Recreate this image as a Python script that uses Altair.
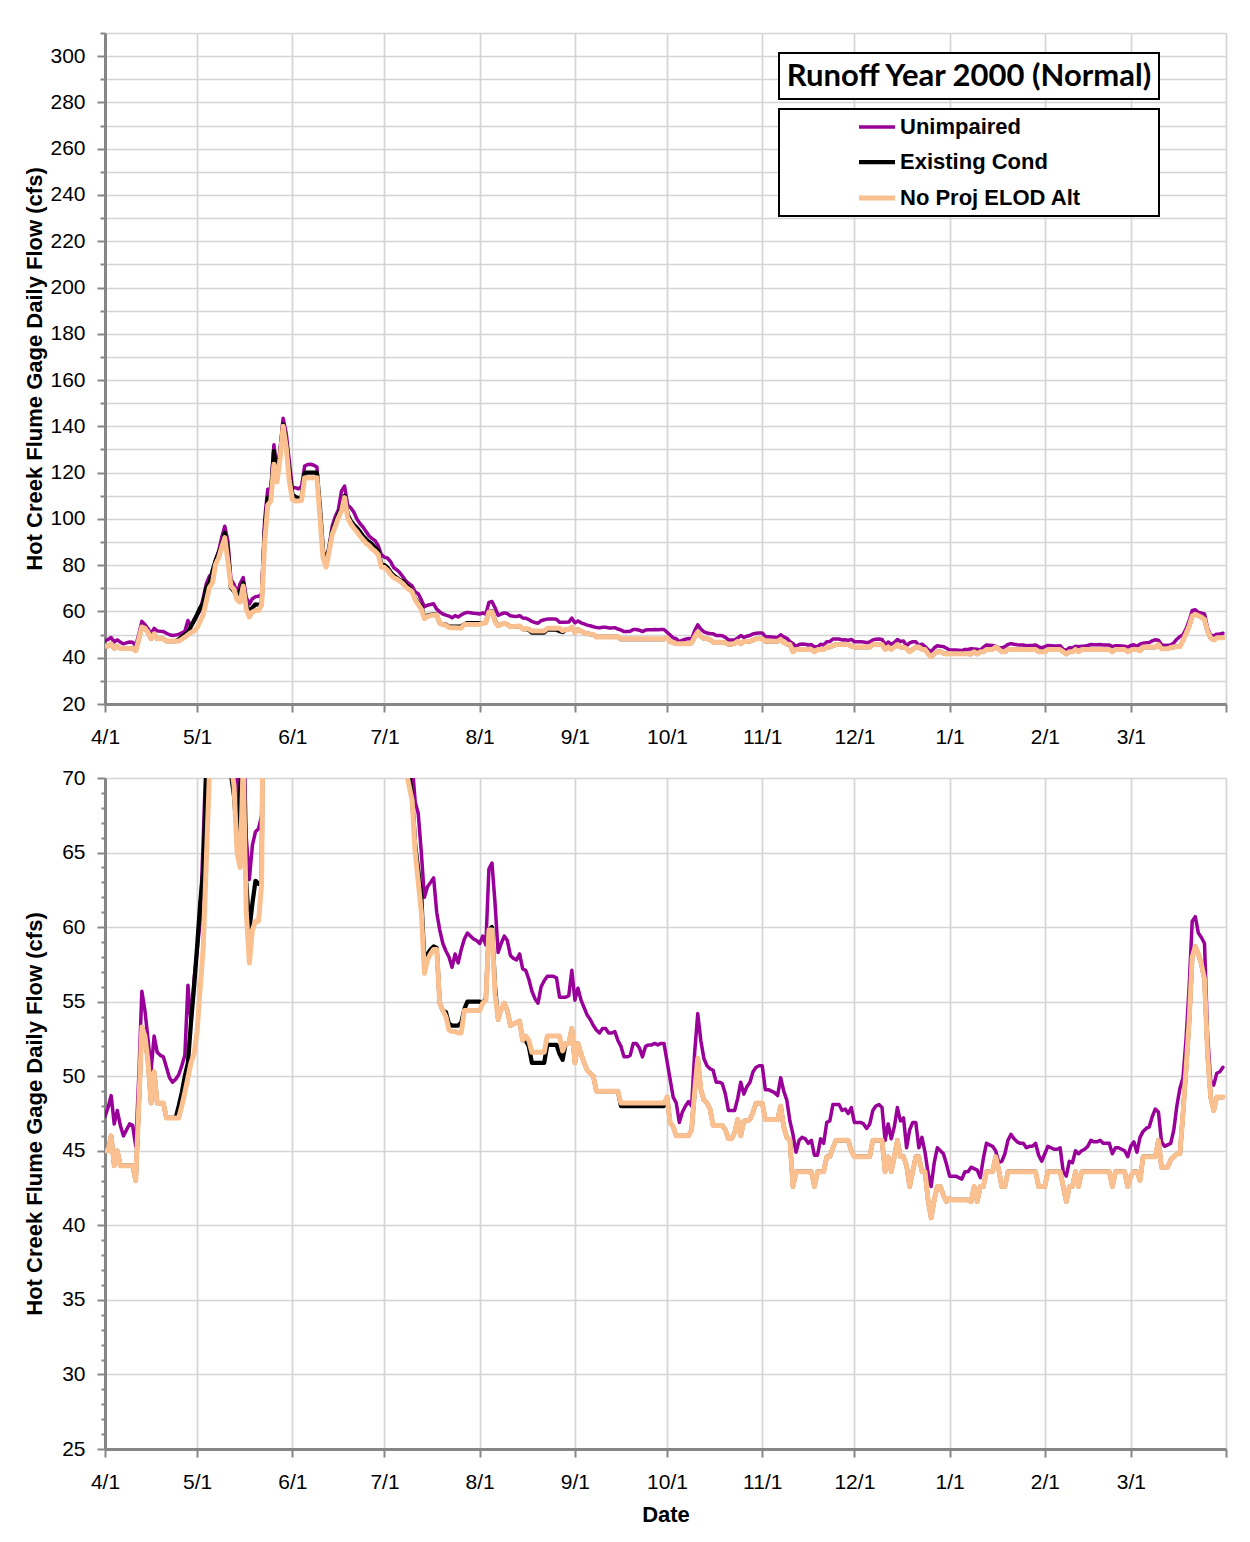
import altair as alt
import pandas as pd

START_DATE = "2000-04-01"
SERIES = ["Unimpaired", "Existing Cond", "No Proj ELOD Alt"]
COLORS = ["#990099", "#000000", "#FAC090"]
WIDTHS = [3.5, 5.0, 3.5]
TITLE_TEXT = "Runoff Year 2000 (Normal)"
Y_TITLE = "Hot Creek Flume Gage Daily Flow (cfs)"
X_TITLE = "Date"

# month tick positions (year, month); the last one (4/1/2001) is unlabeled
MONTH_TICKS = [(2000, 4), (2000, 5), (2000, 6), (2000, 7), (2000, 8), (2000, 9),
               (2000, 10), (2000, 11), (2000, 12), (2001, 1), (2001, 2), (2001, 3),
               (2001, 4)]
TOP_TICKS = [20, 30, 40, 50, 60, 70, 80, 90, 100, 110, 120, 130, 140, 150, 160,
             170, 180, 190, 200, 210, 220, 230, 240, 250, 260, 270, 280, 290, 300, 310]
BOTTOM_TICKS = [25, 26, 27, 28, 29, 30, 31, 32, 33, 34, 35, 36, 37, 38, 39, 40,
                41, 42, 43, 44, 45, 46, 47, 48, 49, 50, 51, 52, 53, 54, 55, 56,
                57, 58, 59, 60, 61, 62, 63, 64, 65, 66, 67, 68, 69, 70]

# daily flows (cfs), 4/1/2000 .. 3/31/2001
unimpaired = [
    47.3, 47.9, 48.7, 46.8, 47.7, 46.7, 46.0, 46.4, 46.8, 46.7,
    45.3, 50.0, 55.7, 54.4, 52.5, 50.4, 52.7, 51.6, 51.4, 51.3,
    50.6, 49.9, 49.6, 49.8, 50.1, 50.7, 51.4, 56.1, 53.6, 56.5,
    58.4, 60.5, 66.0, 72.0, 75.3, 76.0, 82.0, 86.0, 92.0, 96.8,
    90.4, 74.0, 71.7, 68.1, 72.0, 74.6, 66.0, 63.2, 65.5, 66.4,
    66.6, 67.5, 100.0, 112.8, 113.0, 132.0, 121.0, 130.0, 143.5, 137.0,
    125.0, 113.5, 113.5, 113.0, 114.0, 122.8, 123.5, 123.6, 123.2, 122.4,
    100.5, 84.7, 80.3, 88.0, 97.0, 101.0, 104.0, 112.0, 114.2, 106.0,
    104.8, 103.0, 100.0, 98.0, 96.5, 94.5, 92.6, 91.5, 90.5, 88.3,
    84.5, 83.5, 83.0, 81.5, 79.0, 78.0, 76.7, 75.0, 73.1, 72.0,
    71.0, 68.4, 67.6, 65.0, 62.0, 62.7, 63.0, 63.3, 61.0, 59.8,
    58.9, 58.4, 58.0, 57.3, 58.2, 57.6, 58.5, 59.2, 59.6, 59.4,
    59.2, 59.1, 58.9, 59.4, 58.8, 63.9, 64.3, 61.6, 58.3, 58.9,
    59.4, 59.1, 58.1, 57.9, 57.8, 58.2, 57.2, 57.1, 56.5, 55.7,
    55.2, 54.9, 56.0, 56.4, 56.7, 56.7, 56.7, 56.6, 55.3, 55.3,
    55.3, 55.4, 57.1, 55.1, 55.9, 55.1, 54.6, 54.1, 53.8, 53.4,
    53.1, 52.9, 53.2, 53.2, 52.9, 52.9, 53.0, 52.4, 52.0, 51.3,
    51.3, 51.4, 52.2, 52.2, 51.9, 51.3, 52.0, 52.1, 52.1, 52.2,
    52.1, 52.2, 52.2, 51.0, 49.8, 48.6, 48.2, 46.9, 47.6, 48.0,
    48.3, 48.0, 51.6, 54.2, 52.4, 51.2, 50.7, 50.5, 50.4, 49.6,
    49.6, 49.5, 48.8, 47.7, 47.7, 47.7, 48.5, 49.6, 48.8, 49.3,
    49.6, 50.3, 50.6, 50.7, 50.7, 49.1, 49.1, 49.0, 48.9, 48.7,
    49.9, 49.0, 48.4, 47.0, 46.1, 44.9, 45.7, 45.9, 45.8, 45.5,
    45.7, 44.7, 44.7, 45.8, 45.5, 46.9, 47.0, 48.1, 48.1, 48.1,
    47.7, 47.8, 47.5, 47.9, 46.9, 46.9, 46.9, 46.8, 46.5, 46.8,
    47.7, 48.0, 48.1, 47.9, 45.7, 46.8, 45.8, 46.6, 47.9, 47.0,
    47.2, 45.2, 46.4, 46.9, 46.9, 45.2, 45.9, 44.9, 43.5, 42.6,
    44.2, 45.2, 45.0, 44.8, 44.1, 43.3, 43.3, 43.3, 43.2, 43.1,
    43.6, 43.6, 43.9, 43.8, 43.7, 43.2, 44.5, 45.5, 45.4, 45.3,
    45.0, 44.2, 44.3, 44.8, 45.7, 46.1, 45.8, 45.6, 45.5, 45.5,
    45.2, 45.3, 45.3, 45.5, 44.7, 44.3, 44.8, 45.3, 45.2, 45.1,
    45.1, 45.2, 43.6, 43.3, 44.3, 44.2, 45.0, 44.8, 45.0, 45.1,
    45.3, 45.7, 45.6, 45.6, 45.7, 45.5, 45.5, 45.5, 44.8, 45.2,
    45.2, 45.1, 45.0, 44.6, 45.3, 45.6, 44.9, 45.9, 46.3, 46.5,
    46.6, 47.3, 47.8, 47.6, 45.6, 45.3, 45.4, 45.5, 46.4, 48.0,
    49.2, 49.9, 52.5, 56.0, 60.4, 60.7, 59.6, 59.3, 58.9, 52.8,
    49.7, 49.4, 50.2, 50.3, 50.6,
]

existing = [
    45.0, 45.0, 46.0, 44.0, 45.0, 44.0, 44.0, 44.0, 44.0, 44.0,
    43.0, 48.0, 53.3, 52.7, 51.0, 48.2, 50.3, 48.2, 48.2, 48.2,
    47.2, 47.2, 47.2, 47.2, 48.0, 48.9, 50.0, 50.9, 53.6, 56.0,
    58.7, 61.6, 63.8, 70.3, 72.4, 77.5, 82.0, 85.4, 88.3, 94.0,
    86.1, 70.3, 68.8, 66.0, 69.0, 72.4, 63.0, 59.8, 61.6, 63.1,
    62.9, 63.0, 95.0, 109.0, 110.0, 129.3, 117.8, 128.0, 140.8, 133.0,
    120.0, 110.6, 109.5, 109.0, 109.2, 120.0, 120.0, 120.0, 120.0, 120.0,
    104.8, 86.1, 81.8, 87.6, 94.8, 98.4, 102.0, 104.8, 109.9, 102.0,
    99.1, 97.5, 96.2, 94.5, 92.6, 91.2, 90.0, 89.0, 87.5, 86.1,
    80.3, 80.0, 78.9, 77.0, 75.5, 74.6, 73.5, 73.1, 71.5, 70.3,
    68.7, 65.5, 63.8, 62.0, 57.6, 58.2, 58.5, 58.7, 58.6, 54.9,
    54.4, 54.3, 53.5, 53.4, 53.4, 53.4, 53.6, 54.5, 55.0, 55.0,
    55.0, 55.0, 55.0, 54.9, 55.2, 59.8, 60.0, 56.0, 53.8, 54.5,
    54.9, 54.4, 53.4, 53.5, 53.6, 53.7, 52.4, 52.4, 52.0, 50.9,
    50.9, 50.9, 50.9, 50.9, 52.1, 52.1, 52.1, 52.1, 51.5, 51.1,
    52.2, 52.2, 53.2, 50.9, 52.2, 51.5, 50.9, 50.4, 50.2, 50.0,
    49.0, 49.0, 49.0, 49.0, 49.0, 49.0, 49.0, 49.0, 48.0, 48.0,
    48.0, 48.0, 48.0, 48.0, 48.0, 48.0, 48.0, 48.0, 48.0, 48.0,
    48.0, 48.0, 48.0, 48.6, 46.9, 46.6, 46.0, 46.0, 46.0, 46.0,
    46.0, 46.4, 49.0, 51.2, 49.1, 48.4, 48.2, 47.8, 46.7, 46.7,
    46.7, 46.7, 46.4, 45.8, 45.8, 46.2, 47.1, 46.0, 47.0, 47.0,
    47.1, 47.6, 48.2, 48.2, 48.2, 47.1, 47.1, 47.1, 47.1, 47.1,
    48.0, 46.6, 45.9, 45.7, 42.6, 43.6, 43.6, 43.6, 43.6, 43.6,
    43.6, 42.6, 43.6, 43.6, 43.6, 44.6, 44.6, 45.2, 45.7, 45.7,
    45.7, 45.7, 45.7, 45.0, 44.6, 44.6, 44.6, 44.6, 44.6, 44.6,
    45.7, 45.7, 45.7, 45.7, 43.6, 44.6, 43.6, 44.6, 45.7, 44.6,
    44.6, 44.0, 42.6, 43.6, 44.6, 44.6, 43.6, 43.6, 41.7, 40.5,
    41.7, 42.6, 42.6, 42.0, 41.6, 41.8, 41.7, 41.7, 41.7, 41.7,
    41.7, 41.7, 41.6, 42.6, 41.6, 42.6, 42.6, 43.6, 43.6, 43.6,
    44.6, 43.7, 42.6, 42.6, 43.6, 43.6, 43.6, 43.6, 43.6, 43.6,
    43.6, 43.6, 43.6, 43.6, 42.6, 42.6, 42.6, 43.6, 43.6, 43.6,
    43.6, 43.6, 42.6, 41.6, 42.6, 42.6, 43.6, 42.6, 43.6, 43.6,
    43.6, 43.6, 43.6, 43.6, 43.6, 43.6, 43.6, 43.6, 42.6, 43.6,
    43.6, 43.6, 43.6, 42.6, 43.3, 43.6, 43.6, 43.0, 44.6, 44.6,
    44.6, 44.6, 44.6, 45.7, 43.9, 43.9, 43.9, 44.4, 44.6, 44.8,
    44.8, 47.5, 50.5, 53.7, 58.0, 58.7, 58.2, 57.5, 56.5, 51.5,
    48.6, 47.7, 48.6, 48.6, 48.6,
]

no_proj = [
    45.0, 45.0, 46.0, 44.0, 45.0, 44.0, 44.0, 44.0, 44.0, 44.0,
    43.0, 48.0, 53.3, 52.7, 51.0, 48.2, 50.3, 48.2, 48.2, 48.2,
    47.2, 47.2, 47.2, 47.2, 47.2, 48.0, 48.9, 49.9, 50.9, 51.5,
    53.0, 55.9, 58.7, 64.5, 70.3, 72.4, 80.3, 83.2, 87.6, 91.9,
    81.8, 71.0, 69.5, 65.0, 64.0, 71.0, 61.0, 57.6, 59.8, 60.4,
    60.4, 62.9, 90.0, 106.0, 107.7, 123.6, 116.0, 126.0, 140.0, 131.0,
    116.4, 108.5, 107.7, 107.7, 108.0, 117.8, 117.8, 117.8, 117.8, 117.8,
    100.5, 83.2, 79.2, 86.1, 93.3, 96.9, 100.5, 103.4, 109.2, 100.5,
    98.0, 96.0, 94.5, 92.6, 91.0, 89.5, 88.5, 87.0, 86.0, 84.5,
    79.2, 79.0, 77.8, 76.0, 74.6, 74.0, 73.0, 72.0, 70.5, 69.5,
    68.5, 65.0, 63.0, 61.0, 56.9, 57.8, 58.2, 58.5, 58.5, 54.9,
    54.4, 54.0, 53.1, 53.0, 53.0, 52.9, 52.9, 54.4, 54.4, 54.4,
    54.4, 54.4, 54.4, 54.9, 55.1, 59.8, 59.8, 55.5, 53.8, 54.5,
    54.9, 54.4, 53.4, 53.5, 53.6, 53.7, 52.4, 52.7, 52.4, 51.6,
    51.6, 51.6, 51.6, 51.6, 52.7, 52.7, 52.7, 52.7, 52.7, 51.7,
    52.2, 52.2, 53.2, 50.9, 52.2, 51.5, 50.9, 50.4, 50.2, 50.0,
    49.0, 49.0, 49.0, 49.0, 49.0, 49.0, 49.0, 49.0, 48.2, 48.2,
    48.2, 48.2, 48.2, 48.2, 48.2, 48.2, 48.2, 48.2, 48.2, 48.2,
    48.2, 48.2, 48.2, 48.6, 46.9, 46.6, 46.0, 46.0, 46.0, 46.0,
    46.0, 46.4, 49.0, 51.2, 49.1, 48.4, 48.2, 47.8, 46.7, 46.7,
    46.7, 46.7, 46.4, 45.8, 45.8, 46.2, 47.1, 46.0, 47.0, 47.0,
    47.1, 47.6, 48.2, 48.2, 48.2, 47.1, 47.1, 47.1, 47.1, 47.1,
    48.0, 46.6, 45.9, 45.7, 42.6, 43.6, 43.6, 43.6, 43.6, 43.6,
    43.6, 42.6, 43.6, 43.6, 43.6, 44.6, 44.6, 45.2, 45.7, 45.7,
    45.7, 45.7, 45.7, 45.0, 44.6, 44.6, 44.6, 44.6, 44.6, 44.6,
    45.7, 45.7, 45.7, 45.7, 43.6, 44.6, 43.6, 44.6, 45.7, 44.6,
    44.6, 44.0, 42.6, 43.6, 44.6, 44.6, 43.6, 43.6, 41.7, 40.5,
    41.7, 42.6, 42.6, 42.0, 41.6, 41.8, 41.7, 41.7, 41.7, 41.7,
    41.7, 41.7, 41.6, 42.6, 41.6, 42.6, 42.6, 43.6, 43.6, 43.6,
    44.6, 43.7, 42.6, 42.6, 43.6, 43.6, 43.6, 43.6, 43.6, 43.6,
    43.6, 43.6, 43.6, 43.6, 42.6, 42.6, 42.6, 43.6, 43.6, 43.6,
    43.6, 43.6, 42.6, 41.6, 42.6, 42.6, 43.6, 42.6, 43.6, 43.6,
    43.6, 43.6, 43.6, 43.6, 43.6, 43.6, 43.6, 43.6, 42.6, 43.6,
    43.6, 43.6, 43.6, 42.6, 43.3, 43.6, 43.6, 43.0, 44.6, 44.6,
    44.6, 44.6, 44.6, 45.7, 43.9, 43.9, 43.9, 44.4, 44.6, 44.8,
    44.8, 47.5, 50.5, 53.7, 58.0, 58.7, 58.2, 57.5, 56.5, 51.5,
    48.6, 47.7, 48.6, 48.6, 48.6,
]

# ---------------------------------------------------------------- data table
dates = pd.date_range(START_DATE, periods=len(unimpaired), freq="D").strftime("%Y-%m-%d")
frames = []
for name, vals in zip(SERIES, [unimpaired, existing, no_proj]):
    frames.append(pd.DataFrame({"date": list(dates)[:len(vals)], "series": name, "cfs": vals}))
df = pd.concat(frames, ignore_index=True)

FONT = "Liberation Sans"
month_vals = [alt.DateTime(year=y, month=m, date=1, utc=True) for (y, m) in MONTH_TICKS]
x_scale = alt.Scale(type="utc", domain=[month_vals[0], month_vals[-1]], nice=False)
x_label_expr = ("utcyear(datum.value) == 2001 && utcmonth(datum.value) == 3 ? '' : "
                "utcFormat(datum.value, '%-m/%-d')")


def x_enc(title):
    axis_kw = dict(values=month_vals, labelExpr=x_label_expr, grid=True, tickSize=8,
                   labelPadding=14, labelFlush=False, labelOverlap=False,
                   titlePadding=12)
    if title:
        return alt.X("date:T", scale=x_scale, title=title, axis=alt.Axis(**axis_kw))
    return alt.X("date:T", scale=x_scale, title=None, axis=alt.Axis(**axis_kw))


y_top = alt.Y(
    "cfs:Q",
    title=Y_TITLE,
    scale=alt.Scale(domain=[TOP_TICKS[0], TOP_TICKS[-1]], nice=False, zero=False),
    axis=alt.Axis(
        values=TOP_TICKS,
        labelExpr="datum.value % 20 == 0 ? datum.label : ''",
        tickSize={"condition": {"test": "datum.value % 20 == 0", "value": 8}, "value": 5},
        labelPadding=12, labelOverlap=False, labelFlush=False,
        titleX=-71, titleBaseline="middle",
    ),
)

y_bottom = alt.Y(
    "cfs:Q",
    title=Y_TITLE,
    scale=alt.Scale(domain=[BOTTOM_TICKS[0], BOTTOM_TICKS[-1]], nice=False, zero=False),
    axis=alt.Axis(
        values=BOTTOM_TICKS,
        labelExpr="datum.value % 5 == 0 ? datum.label : ''",
        tickSize={"condition": {"test": "datum.value % 5 == 0", "value": 8}, "value": 4},
        gridOpacity={"condition": {"test": "datum.value % 5 == 0", "value": 1}, "value": 0},
        labelPadding=12, labelOverlap=False, labelFlush=False,
        titleX=-71, titleBaseline="middle",
    ),
)

color_scale = alt.Scale(domain=SERIES, range=COLORS)
width_scale = alt.Scale(domain=SERIES, range=WIDTHS)

legend_top = alt.Legend(
    title=None, orient="none", legendX=751, legendY=74,
    symbolType="stroke", symbolSize=1300, labelOffset=2,
    labelFont=FONT, labelFontSize=22, labelFontWeight="bold", labelColor="black",
    rowPadding=3.5, padding=0, labelLimit=400,
)


def lines(x, y, legend):
    layers = []
    for name in SERIES:
        layers.append(
            alt.Chart(df)
            .transform_filter(alt.datum.series == name)
            .mark_line(clip=True, strokeJoin="round", strokeCap="round")
            .encode(
                x=x,
                y=y,
                color=alt.Color("series:N", scale=color_scale, legend=legend),
                strokeWidth=alt.StrokeWidth("series:N", scale=width_scale, legend=legend),
            )
        )
    return layers


label_df = pd.DataFrame({"label": [TITLE_TEXT]})
title_box = alt.Chart(label_df).mark_rect(fill="white", stroke="black", strokeWidth=2).encode(
    x=alt.value(674), x2=alt.value(1054), y=alt.value(20), y2=alt.value(66))
title_text = alt.Chart(label_df).mark_text(
    font="Lato", fontSize=31, fontWeight="bold", align="center", baseline="middle", color="black"
).encode(x=alt.value(864), y=alt.value(44), text="label:N")
legend_box = alt.Chart(label_df).mark_rect(fill="white", stroke="black", strokeWidth=2).encode(
    x=alt.value(674), x2=alt.value(1054), y=alt.value(76), y2=alt.value(183))

top = alt.layer(
    *lines(x_enc(None), y_top, legend_top), title_box, title_text, legend_box
).properties(width=1121, height=671)

bottom = alt.layer(*lines(x_enc(X_TITLE), y_bottom, None)).properties(width=1121, height=671)

chart = (
    alt.vconcat(top, bottom, spacing=20)
    .resolve_scale(color="independent", strokeWidth="independent")
    .properties(padding={"left": 15, "top": 14, "right": 10, "bottom": 5}, background="white")
    .configure_view(strokeWidth=0)
    .configure_axis(
        domainColor="#868686", domainWidth=3, tickColor="#868686", tickWidth=2,
        gridColor="#d4d4d4", gridWidth=1.7,
        labelFont=FONT, labelFontSize=21, labelColor="black",
        titleFont=FONT, titleFontSize=22, titleFontWeight="bold", titleColor="black",
    )
)

chart.save("out.html", embed_options={"renderer": "svg", "actions": False})
